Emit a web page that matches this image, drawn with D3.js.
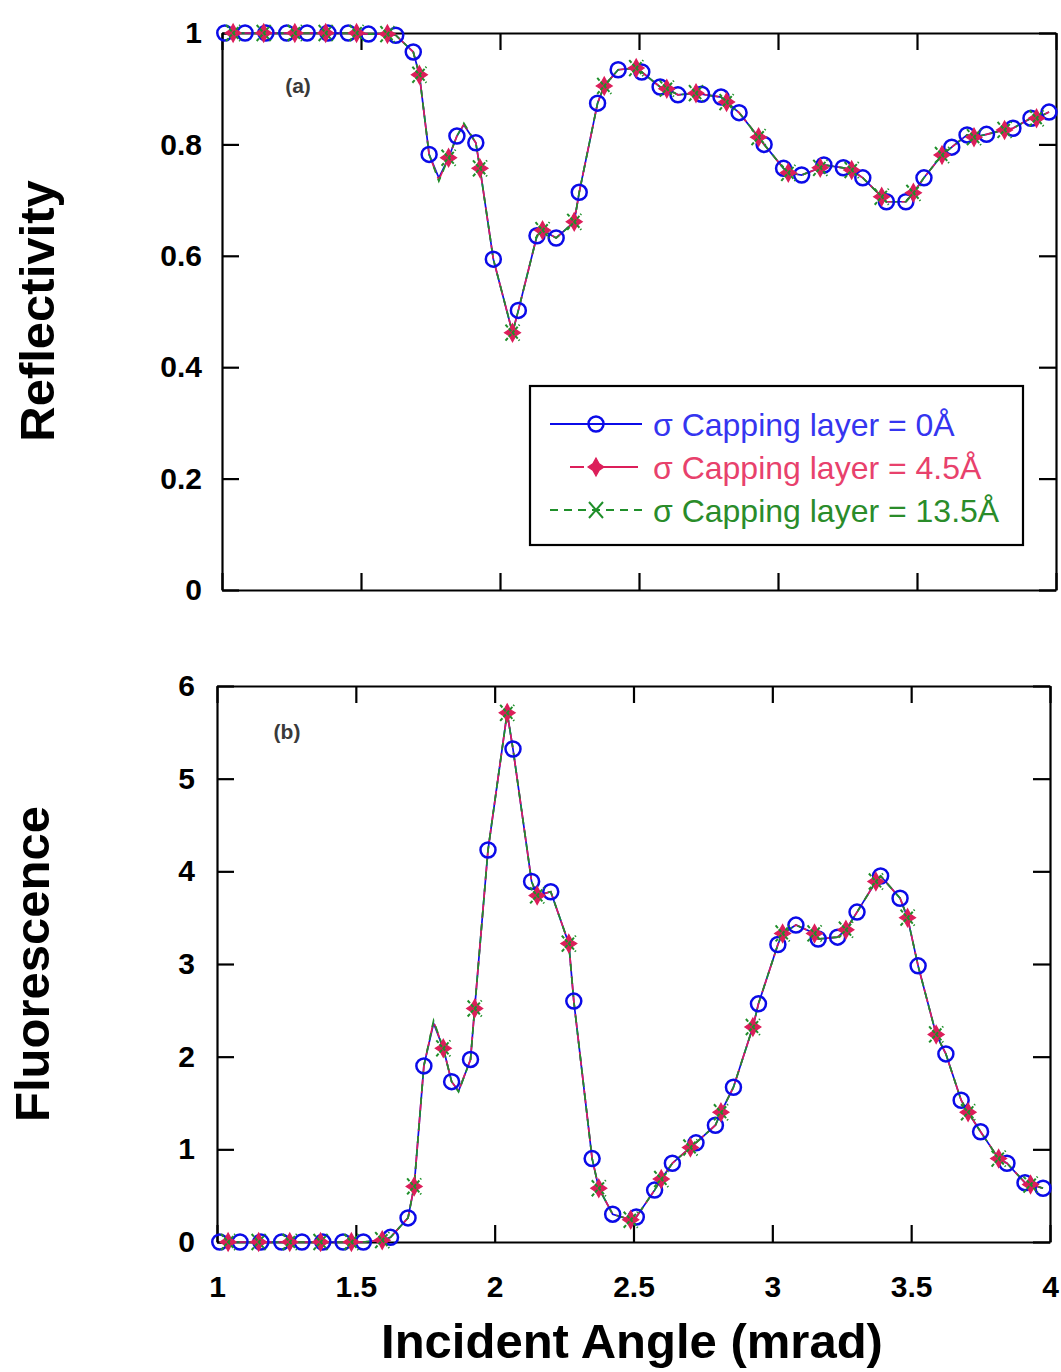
<!DOCTYPE html>
<html>
<head>
<meta charset="utf-8">
<script src="https://cdn.jsdelivr.net/npm/d3@7"></script>
<style>
  html, body { margin: 0; padding: 0; background: #ffffff; }
  svg { display: block; }
  text { font-family: "Liberation Sans", Arial, Helvetica, sans-serif; }
</style>
</head>
<body>
<div id="chart"></div>
<script>
// ---------------- DATA ----------------
// Incident angle (mrad) of the plotted points (union of both marker sets + a few line-only points)
const angle = [
  1.010, 1.040, 1.083, 1.150, 1.158, 1.233, 1.262, 1.306, 1.373, 1.381,
  1.454, 1.484, 1.527, 1.595, 1.625, 1.688, 1.710, 1.745, 1.780, 1.815,
  1.845, 1.870, 1.913, 1.928, 1.976, 2.045, 2.066, 2.133, 2.153, 2.202,
  2.267, 2.285, 2.351, 2.375, 2.425, 2.490, 2.510, 2.576, 2.600, 2.640,
  2.705, 2.725, 2.795, 2.815, 2.860, 2.930, 2.950, 3.020, 3.037, 3.085,
  3.152, 3.165, 3.235, 3.265, 3.305, 3.373, 3.390, 3.460, 3.487, 3.525,
  3.590, 3.625, 3.680, 3.705, 3.750, 3.815, 3.845, 3.910, 3.930, 3.975
];
// which series carries a marker at that point: b = sigma 0 (circles), r = sigma 4.5 & 13.5, e = line only
const markedBy = [
  "b","r","b","r","b","b","r","b","r","b",
  "b","r","b","r","b","b","r","b","e","r",
  "b","e","b","r","b","r","b","b","r","b",
  "r","b","b","r","b","r","b","b","r","b",
  "r","b","b","r","b","r","b","b","r","b",
  "r","b","b","r","b","r","b","b","r","b",
  "r","b","b","r","b","r","b","b","r","b"
];

// Reflectivity (panel a)
const reflSigma0 = [
  1.000, 1.000, 1.000, 1.000, 1.000, 1.000, 1.000, 1.000, 1.000, 1.000,
  1.000, 1.000, 0.998, 0.998, 0.996, 0.966, 0.925, 0.782, 0.740, 0.776,
  0.815, 0.835, 0.803, 0.757, 0.594, 0.462, 0.502, 0.636, 0.646, 0.632,
  0.661, 0.714, 0.874, 0.905, 0.934, 0.937, 0.930, 0.903, 0.900, 0.889,
  0.892, 0.890, 0.885, 0.876, 0.857, 0.813, 0.800, 0.757, 0.749, 0.745,
  0.758, 0.763, 0.758, 0.754, 0.740, 0.706, 0.697, 0.697, 0.713, 0.740,
  0.781, 0.795, 0.817, 0.813, 0.818, 0.826, 0.829, 0.847, 0.847, 0.858
];
const reflSigma45 = [
  1.000, 1.000, 1.000, 1.000, 1.000, 1.000, 1.000, 1.000, 1.000, 1.000,
  1.000, 1.000, 0.998, 0.998, 0.996, 0.966, 0.925, 0.782, 0.736, 0.776,
  0.815, 0.836, 0.803, 0.757, 0.594, 0.462, 0.502, 0.636, 0.646, 0.632,
  0.661, 0.714, 0.874, 0.905, 0.934, 0.937, 0.930, 0.903, 0.900, 0.889,
  0.892, 0.890, 0.885, 0.876, 0.857, 0.813, 0.800, 0.757, 0.749, 0.745,
  0.758, 0.763, 0.758, 0.754, 0.740, 0.706, 0.697, 0.697, 0.713, 0.740,
  0.781, 0.795, 0.817, 0.813, 0.818, 0.826, 0.829, 0.847, 0.847, 0.858
];
const reflSigma135 = [
  1.000, 1.000, 1.000, 1.000, 1.000, 1.000, 1.000, 1.000, 1.000, 1.000,
  1.000, 1.000, 0.998, 0.998, 0.996, 0.966, 0.925, 0.782, 0.734, 0.776,
  0.815, 0.838, 0.803, 0.757, 0.594, 0.462, 0.502, 0.636, 0.646, 0.632,
  0.661, 0.714, 0.874, 0.905, 0.934, 0.937, 0.930, 0.903, 0.900, 0.889,
  0.892, 0.890, 0.885, 0.876, 0.857, 0.813, 0.800, 0.757, 0.749, 0.745,
  0.758, 0.763, 0.758, 0.754, 0.740, 0.706, 0.697, 0.697, 0.713, 0.740,
  0.781, 0.795, 0.817, 0.813, 0.818, 0.826, 0.829, 0.847, 0.847, 0.858
];

// Fluorescence (panel b)
const fluoSigma0 = [
  0.00, 0.00, 0.00, 0.00, 0.00, 0.00, 0.00, 0.00, 0.00, 0.00,
  0.00, 0.00, 0.00, 0.02, 0.05, 0.26, 0.60, 1.90, 2.36, 2.09,
  1.73, 1.63, 1.97, 2.52, 4.23, 5.71, 5.32, 3.89, 3.74, 3.78,
  3.22, 2.60, 0.90, 0.58, 0.30, 0.24, 0.27, 0.56, 0.68, 0.85,
  1.02, 1.07, 1.26, 1.40, 1.67, 2.32, 2.57, 3.21, 3.33, 3.42,
  3.33, 3.27, 3.29, 3.37, 3.56, 3.89, 3.95, 3.71, 3.50, 2.98,
  2.24, 2.03, 1.53, 1.40, 1.19, 0.90, 0.85, 0.64, 0.62, 0.58
];
const fluoSigma45 = [
  0.00, 0.00, 0.00, 0.00, 0.00, 0.00, 0.00, 0.00, 0.00, 0.00,
  0.00, 0.00, 0.00, 0.02, 0.05, 0.26, 0.60, 1.90, 2.38, 2.09,
  1.73, 1.63, 1.97, 2.52, 4.23, 5.71, 5.32, 3.89, 3.74, 3.78,
  3.22, 2.60, 0.90, 0.58, 0.30, 0.24, 0.27, 0.56, 0.68, 0.85,
  1.02, 1.07, 1.26, 1.40, 1.67, 2.32, 2.57, 3.21, 3.33, 3.42,
  3.33, 3.27, 3.29, 3.37, 3.56, 3.89, 3.95, 3.71, 3.50, 2.98,
  2.24, 2.03, 1.53, 1.40, 1.19, 0.90, 0.85, 0.64, 0.62, 0.58
];
const fluoSigma135 = [
  0.00, 0.00, 0.00, 0.00, 0.00, 0.00, 0.00, 0.00, 0.00, 0.00,
  0.00, 0.00, 0.00, 0.02, 0.05, 0.26, 0.60, 1.90, 2.39, 2.09,
  1.73, 1.62, 1.97, 2.52, 4.23, 5.71, 5.32, 3.89, 3.74, 3.78,
  3.22, 2.60, 0.90, 0.58, 0.30, 0.24, 0.27, 0.56, 0.68, 0.85,
  1.02, 1.07, 1.26, 1.40, 1.67, 2.32, 2.57, 3.21, 3.33, 3.42,
  3.33, 3.27, 3.29, 3.37, 3.56, 3.89, 3.95, 3.71, 3.50, 2.98,
  2.24, 2.03, 1.53, 1.40, 1.19, 0.90, 0.85, 0.64, 0.62, 0.58
];

// Series names / legend
const seriesNames = ["\u03C3 Capping layer = 0\u00C5", "\u03C3 Capping layer = 4.5\u00C5", "\u03C3 Capping layer = 13.5\u00C5"];

// Tick values and labels
const xTickValues = [1, 1.5, 2, 2.5, 3, 3.5, 4];
const xTickLabels = ["1", "1.5", "2", "2.5", "3", "3.5", "4"];
const reflTickValues = [0, 0.2, 0.4, 0.6, 0.8, 1];
const reflTickLabels = ["0", "0.2", "0.4", "0.6", "0.8", "1"];
const fluoTickValues = [0, 1, 2, 3, 4, 5, 6];
const fluoTickLabels = ["0", "1", "2", "3", "4", "5", "6"];

// ---------------- STYLE ----------------
const W = 1061, H = 1372;
const colBlue = "#0b0be8", colRed = "#dc1e5a", colGreen = "#1f8f2a";
const txtBlue = "#3535f0", txtRed = "#e8416c", txtGreen = "#2a8c2a";
const FONT = "'Liberation Sans', Arial, Helvetica, sans-serif";

const svg = d3.select("#chart").append("svg")
  .attr("width", W).attr("height", H)
  .attr("viewBox", `0 0 ${W} ${H}`);
svg.append("rect").attr("width", W).attr("height", H).attr("fill", "#fff");

const starPath = "M0,-9L3.2,-3.2L8,0L3.2,3.2L0,9L-3.2,3.2L-8,0L-3.2,-3.2Z";
const crossPath = "M-7,-8L7,8M-7,8L7,-8";

function drawPanel(cfg) {
  const x = d3.scaleLinear().domain([1, 4]).range([cfg.left, cfg.right]);
  const y = d3.scaleLinear().domain(cfg.yDomain).range([cfg.bottom, cfg.top]);
  const g = svg.append("g");

  // axes (inward ticks, frame made from domain lines)
  const tick = 17;
  const axB = g.append("g").attr("transform", `translate(0,${cfg.bottom})`)
    .call(d3.axisBottom(x).tickValues(xTickValues).tickSizeInner(-tick).tickSizeOuter(0)
      .tickPadding(34)
      .tickFormat((d, i) => cfg.showX ? xTickLabels[i] : ""));
  const axT = g.append("g").attr("transform", `translate(0,${cfg.top})`)
    .call(d3.axisTop(x).tickValues(xTickValues).tickSizeInner(-tick).tickSizeOuter(0).tickFormat(""));
  const axL = g.append("g").attr("transform", `translate(${cfg.left},0)`)
    .call(d3.axisLeft(y).tickValues(cfg.yTicks).tickSizeInner(-tick).tickSizeOuter(0)
      .tickPadding(cfg.yPad)
      .tickFormat((d, i) => cfg.yLabels[i]));
  const axR = g.append("g").attr("transform", `translate(${cfg.right},0)`)
    .call(d3.axisRight(y).tickValues(cfg.yTicks).tickSizeInner(-tick).tickSizeOuter(0).tickFormat(""));
  [axB, axT, axL, axR].forEach(a => {
    a.select(".domain").attr("stroke", "#000").attr("stroke-width", 2.2);
    a.selectAll(".tick line").attr("stroke", "#000").attr("stroke-width", 2.2);
    a.selectAll(".tick text").attr("fill", "#000")
      .style("font-family", FONT).style("font-weight", "bold").style("font-size", "30px");
  });
  axL.selectAll(".tick text").attr("dy", "0.32em");

  // panel label
  g.append("text").attr("x", cfg.labelX).attr("y", cfg.labelY)
    .attr("text-anchor", "middle").attr("fill", "#3a3a3a")
    .style("font-size", "21px").style("font-weight", "bold").text(cfg.label);

  // lines
  const line = vals => d3.line().x((d, i) => x(angle[i])).y((d, i) => y(vals[i]))(vals);
  g.append("path").attr("d", line(cfg.series[0])).attr("fill", "none")
    .attr("stroke", colBlue).attr("stroke-width", 1.7);
  g.append("path").attr("d", line(cfg.series[1])).attr("fill", "none")
    .attr("stroke", colRed).attr("stroke-width", 1.7).attr("stroke-dasharray", "14,5");
  g.append("path").attr("d", line(cfg.series[2])).attr("fill", "none")
    .attr("stroke", colGreen).attr("stroke-width", 1.7).attr("stroke-dasharray", "7,6");

  // markers
  const idx = angle.map((a, i) => i);
  const bIdx = idx.filter(i => markedBy[i] === "b");
  const rIdx = idx.filter(i => markedBy[i] === "r");
  g.selectAll(null).data(bIdx).join("circle")
    .attr("cx", i => x(angle[i])).attr("cy", i => y(cfg.series[0][i])).attr("r", 7.5)
    .attr("fill", "none").attr("stroke", colBlue).attr("stroke-width", 2.5);
  g.selectAll(null).data(rIdx).join("path")
    .attr("transform", i => `translate(${x(angle[i])},${y(cfg.series[1][i])})`)
    .attr("d", starPath).attr("fill", colRed).attr("stroke", colRed).attr("stroke-width", 1.2);
  g.selectAll(null).data(rIdx).join("path")
    .attr("transform", i => `translate(${x(angle[i])},${y(cfg.series[2][i])})`)
    .attr("d", crossPath).attr("fill", "none").attr("stroke", colGreen).attr("stroke-width", 2)
    .attr("stroke-dasharray", "3.5,1.5");
  return { x, y, g };
}

// Panel (a): Reflectivity
drawPanel({
  left: 222, right: 1056, top: 33, bottom: 590,
  yDomain: [0, 1], yTicks: reflTickValues, yLabels: reflTickLabels, yPad: 20,
  showX: false, label: "(a)", labelX: 298, labelY: 93,
  series: [reflSigma0, reflSigma45, reflSigma135]
});

// Panel (b): Fluorescence
drawPanel({
  left: 217, right: 1050, top: 686, bottom: 1242,
  yDomain: [0, 6], yTicks: fluoTickValues, yLabels: fluoTickLabels, yPad: 22,
  showX: true, label: "(b)", labelX: 287, labelY: 739,
  series: [fluoSigma0, fluoSigma45, fluoSigma135]
});

// Axis titles
svg.append("text").attr("transform", "translate(54,311) rotate(-90)")
  .attr("text-anchor", "middle").style("font-family", FONT)
  .style("font-weight", "bold").style("font-size", "49px").text("Reflectivity");
svg.append("text").attr("transform", "translate(49,964) rotate(-90)")
  .attr("text-anchor", "middle").style("font-family", FONT)
  .style("font-weight", "bold").style("font-size", "49px").text("Fluorescence");
svg.append("text").attr("x", 632).attr("y", 1358)
  .attr("text-anchor", "middle").style("font-family", FONT)
  .style("font-weight", "bold").style("font-size", "49px").text("Incident Angle (mrad)");

// Legend
const lg = svg.append("g");
lg.append("rect").attr("x", 530).attr("y", 386).attr("width", 493).attr("height", 159)
  .attr("fill", "#fff").attr("stroke", "#000").attr("stroke-width", 2.2);
const rowsY = [424, 467, 510];
const txtCols = [txtBlue, txtRed, txtGreen];
// blue row
lg.append("line").attr("x1", 550).attr("x2", 642).attr("y1", rowsY[0]).attr("y2", rowsY[0])
  .attr("stroke", colBlue).attr("stroke-width", 1.8);
lg.append("circle").attr("cx", 596).attr("cy", rowsY[0]).attr("r", 7.5)
  .attr("fill", "none").attr("stroke", colBlue).attr("stroke-width", 2.5);
// red row
lg.append("line").attr("x1", 570).attr("x2", 638).attr("y1", rowsY[1]).attr("y2", rowsY[1])
  .attr("stroke", colRed).attr("stroke-width", 1.8).attr("stroke-dasharray", "14,6,60");
lg.append("path").attr("transform", `translate(596,${rowsY[1]})`).attr("d", starPath)
  .attr("fill", colRed).attr("stroke", colRed).attr("stroke-width", 1.2);
// green row
lg.append("line").attr("x1", 550).attr("x2", 642).attr("y1", rowsY[2]).attr("y2", rowsY[2])
  .attr("stroke", colGreen).attr("stroke-width", 1.8).attr("stroke-dasharray", "8,6");
lg.append("path").attr("transform", `translate(596,${rowsY[2]})`).attr("d", crossPath)
  .attr("fill", "none").attr("stroke", colGreen).attr("stroke-width", 2);
seriesNames.forEach((s, i) => {
  lg.append("text").attr("x", 653).attr("y", rowsY[i]).attr("dy", "0.36em")
    .attr("fill", txtCols[i]).style("font-family", FONT).style("font-size", "32px").text(s);
});
</script>
</body>
</html>
